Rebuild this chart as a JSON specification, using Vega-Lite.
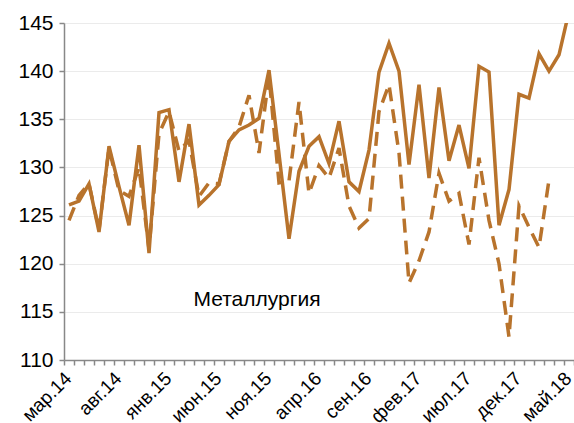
{
  "$schema": "https://vega.github.io/schema/vega-lite/v6.json",
  "width": 510,
  "height": 337,
  "autosize": {"type": "none"},
  "padding": {"left": 64, "top": 23, "right": 0, "bottom": 63},
  "background": "white",
  "config": {"view": {"stroke": null}, "font": "Liberation Sans"},
  "data": {
    "values": [
      {"t": 0, "actual": 126.1, "forecast": 124.5},
      {"t": 1, "actual": 126.5, "forecast": 127.1},
      {"t": 2, "actual": 128.3, "forecast": 128.3},
      {"t": 3, "actual": 123.3, "forecast": 123.5},
      {"t": 4, "actual": 132.2, "forecast": 132.0},
      {"t": 5, "actual": 128.0, "forecast": 127.6},
      {"t": 6, "actual": 124.0, "forecast": 127.0},
      {"t": 7, "actual": 132.3, "forecast": 130.0},
      {"t": 8, "actual": 121.1, "forecast": 121.5},
      {"t": 9, "actual": 135.7, "forecast": 133.5},
      {"t": 10, "actual": 136.0, "forecast": 135.8},
      {"t": 11, "actual": 128.5, "forecast": 131.7},
      {"t": 12, "actual": 134.5, "forecast": 132.8},
      {"t": 13, "actual": 126.1, "forecast": 127.0},
      {"t": 14, "actual": 127.1, "forecast": 128.4},
      {"t": 15, "actual": 128.2, "forecast": 128.3},
      {"t": 16, "actual": 132.7, "forecast": 132.7},
      {"t": 17, "actual": 133.9, "forecast": 134.2},
      {"t": 18, "actual": 134.4, "forecast": 137.5},
      {"t": 19, "actual": 135.1, "forecast": 131.5},
      {"t": 20, "actual": 140.1, "forecast": 139.5},
      {"t": 21, "actual": 131.4, "forecast": 128.4},
      {"t": 22, "actual": 122.6, "forecast": 128.6},
      {"t": 23, "actual": 129.6, "forecast": 136.8},
      {"t": 24, "actual": 132.2, "forecast": 127.3},
      {"t": 25, "actual": 133.2, "forecast": 130.2},
      {"t": 26, "actual": 130.4, "forecast": 128.9},
      {"t": 27, "actual": 134.8, "forecast": 132.0},
      {"t": 28, "actual": 128.5, "forecast": 126.0},
      {"t": 29, "actual": 127.5, "forecast": 123.7},
      {"t": 30, "actual": 131.8, "forecast": 124.7},
      {"t": 31, "actual": 139.9, "forecast": 135.8},
      {"t": 32, "actual": 142.9, "forecast": 138.6},
      {"t": 33, "actual": 140.0, "forecast": 131.5},
      {"t": 34, "actual": 130.3, "forecast": 118.0},
      {"t": 35, "actual": 138.6, "forecast": 120.3},
      {"t": 36, "actual": 128.9, "forecast": 123.3},
      {"t": 37, "actual": 138.3, "forecast": 129.4},
      {"t": 38, "actual": 130.7, "forecast": 126.5},
      {"t": 39, "actual": 134.4, "forecast": 127.3},
      {"t": 40, "actual": 129.9, "forecast": 122.0},
      {"t": 41, "actual": 140.5, "forecast": 131.0},
      {"t": 42, "actual": 139.9, "forecast": 124.5},
      {"t": 43, "actual": 124.0, "forecast": 120.0},
      {"t": 44, "actual": 127.7, "forecast": 112.4},
      {"t": 45, "actual": 137.6, "forecast": 126.0},
      {"t": 46, "actual": 137.2, "forecast": 123.8},
      {"t": 47, "actual": 141.8, "forecast": 121.7},
      {"t": 48, "actual": 140.0, "forecast": 128.7},
      {"t": 49, "actual": 141.7, "forecast": null},
      {"t": 50, "actual": 146.2, "forecast": null}
    ]
  },
  "encoding": {
    "x": {
      "field": "t",
      "type": "quantitative",
      "scale": {"domain": [-0.5, 50.5], "nice": false, "zero": false},
      "axis": {
        "title": null,
        "grid": false,
        "values": [-0.5, 0.5, 1.5, 2.5, 3.5, 4.5, 5.5, 6.5, 7.5, 8.5, 9.5, 10.5, 11.5, 12.5, 13.5, 14.5, 15.5, 16.5, 17.5, 18.5, 19.5, 20.5, 21.5, 22.5, 23.5, 24.5, 25.5, 26.5, 27.5, 28.5, 29.5, 30.5, 31.5, 32.5, 33.5, 34.5, 35.5, 36.5, 37.5, 38.5, 39.5, 40.5, 41.5, 42.5, 43.5, 44.5, 45.5, 46.5, 47.5, 48.5, 49.5, 50.5],
        "labelExpr": "(datum.value + 0.5) % 5 == 0 && datum.value < 50 ? ['янв','фев','мар','апр','май','июн','июл','авг','сен','окт','ноя','дек'][(datum.value + 2.5) % 12] + '.' + (14 + floor((datum.value + 2.5) / 12)) : ''",
        "labelOffset": 4,
        "labelAngle": -45,
        "labelAlign": "right",
        "labelBaseline": "middle",
        "labelFontSize": 19,
        "labelColor": "#000000",
        "labelPadding": 10,
        "labelOverlap": false,
        "labelBound": false,
        "labelFlush": false,
        "tickSize": 5,
        "tickColor": "#888888",
        "tickWidth": 1.5,
        "domainColor": "#888888",
        "domainWidth": 1.5
      }
    },
    "y": {
      "type": "quantitative",
      "scale": {"domain": [110, 145], "nice": false, "zero": false}
    }
  },
  "layer": [
    {
      "mark": {"type": "line", "stroke": "#B8732C", "strokeWidth": 3.5, "strokeDash": [14, 8], "clip": true},
      "encoding": {
        "y": {
          "field": "forecast",
          "type": "quantitative",
          "scale": {"domain": [110, 145], "nice": false, "zero": false},
          "axis": {
            "title": null,
            "values": [110, 115, 120, 125, 130, 135, 140, 145],
            "grid": true,
            "gridColor": "#ebebeb",
            "gridWidth": 1,
            "labelFontSize": 21,
            "labelColor": "#000000",
            "labelPadding": 6,
            "tickSize": 5,
            "tickColor": "#888888",
            "tickWidth": 1.5,
            "domainColor": "#888888",
            "domainWidth": 1.5
          }
        }
      }
    },
    {
      "mark": {"type": "line", "stroke": "#B8732C", "strokeWidth": 3.5, "clip": true},
      "encoding": {"y": {"field": "actual", "type": "quantitative"}}
    },
    {
      "data": {"values": [{"t": 18.8, "v": 116.2, "label": "Металлургия"}]},
      "mark": {"type": "text", "fontSize": 21, "color": "#000000", "align": "center", "baseline": "middle"},
      "encoding": {
        "y": {"field": "v", "type": "quantitative"},
        "text": {"field": "label"}
      }
    }
  ]
}
